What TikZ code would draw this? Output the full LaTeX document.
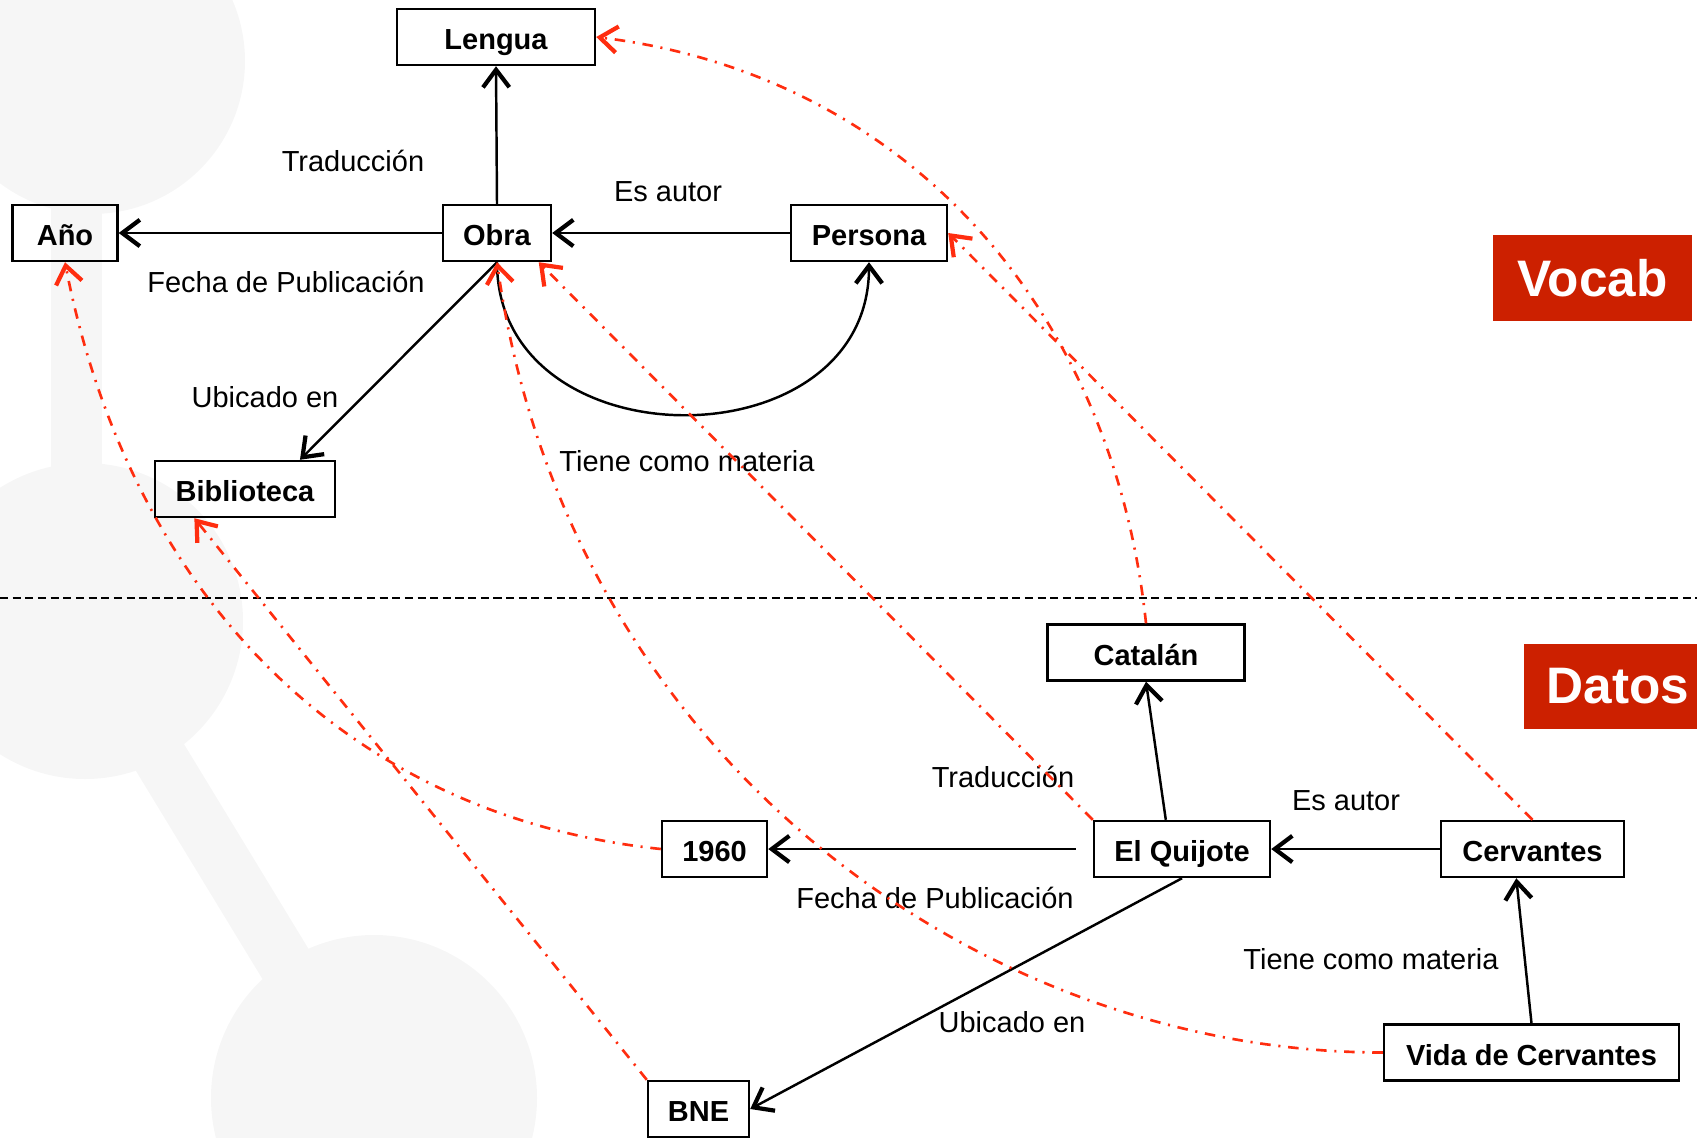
\documentclass[tikz,border=0pt]{standalone}
\usepackage{fontspec}
\setmainfont{Liberation Sans}
\usetikzlibrary{arrows.meta}
\definecolor{rdfred}{RGB}{255,45,15}
\definecolor{tagred}{RGB}{204,32,0}
\definecolor{bggray}{RGB}{246,246,246}

\begin{document}
\begin{tikzpicture}[
    >={Straight Barb[length=5pt,width=7.5pt,line width=1.2pt]},
    box/.style={draw, line width=0.7pt, minimum height=0.56cm, inner sep=0pt, text height=0.716em, text depth=0pt, font=\fontsize{8.25}{10}\selectfont\bfseries},
    lbl/.style={inner sep=0pt, text height=0.716em, text depth=0pt, font=\fontsize{8.25}{10}\selectfont},
    tag/.style={fill=tagred, text=white, minimum height=0.86cm, font=\fontsize{14.6}{17}\selectfont\bfseries},
    rel/.style={->, line width=0.7pt},
    link/.style={->, rdfred, line width=0.75pt, dash pattern=on 3pt off 2.2pt on 0.6pt off 2.2pt}
]
    \useasboundingbox (0,0) rectangle (16.97,-11.37);

    % background logo
    \begin{scope}
        \clip (0,0) rectangle (16.97,-11.37);
        \fill[bggray] (0.92,-0.61) circle (1.53);
        \fill[bggray] (0.51,-0.61) rectangle (1.02,-6.21);
        \fill[bggray] (0.85,-6.21) circle (1.58);
        \draw[bggray, line width=0.55cm] (0.77,-6.21) -- (3.67,-10.98);
        \fill[bggray] (3.74,-10.98) circle (1.63);
    \end{scope}

    % separator
    \coordinate (sepL) at (0,-5.98);
    \coordinate (sepR) at (16.97,-5.98);
    \draw[line width=0.6pt, dash pattern=on 2.3pt off 1.3pt] (sepL) -- (sepR);

    % vocabulary
    \node[box, minimum width=1.98cm] (lengua) at (4.96,-0.37) {Lengua};
    \node[box, minimum width=1.08cm] (obra) at (4.97,-2.33) {Obra};
    \node[box, minimum width=1.05cm] (anio) at (0.65,-2.33) {Año};
    \node[box, minimum width=1.56cm] (persona) at (8.69,-2.33) {Persona};
    \node[box, minimum width=1.80cm] (biblio) at (2.45,-4.89) {Biblioteca};

    \draw[rel] (obra.north) -- (lengua.south);
    \draw[rel] (obra.west) -- (anio.east);
    \draw[rel] (persona.west) -- (obra.east);
    \draw[rel] (obra.south) -- (biblio.28);
    \draw[rel] (obra.south) to[out=-90,in=-90,looseness=1.4] (persona.south);

    \node[lbl] (tradA) at (3.53,-1.59) {Traducción};
    \node[lbl] (autorA) at (6.68,-1.89) {Es autor};
    \node[lbl] (fechaA) at (2.86,-2.80) {Fecha de Publicación};
    \node[lbl] (ubicA) at (2.65,-3.95) {Ubicado en};
    \node[lbl] (materiaA) at (6.87,-4.59) {Tiene como materia};

    % data
    \node[box, minimum width=1.97cm] (catalan) at (11.46,-6.525) {Catalán};
    \node[box, minimum width=1.76cm] (quijote) at (11.82,-8.49) {El Quijote};
    \node[box, minimum width=1.83cm] (cervantes) at (15.325,-8.49) {Cervantes};
    \node[box, minimum width=1.05cm] (fecha) at (7.145,-8.49) {1960};
    \node[box, minimum width=1.01cm] (bne) at (6.985,-11.09) {BNE};
    \node[box, minimum width=2.95cm] (vida) at (15.315,-10.525) {Vida de Cervantes};

    \draw[rel] (quijote.119) -- (catalan.south);
    \draw[rel, shorten <=4.8pt] (quijote.west) -- (fecha.east);
    \draw[rel] (cervantes.west) -- (quijote.east);
    \draw[rel] (quijote.south) -- (bne.east);
    \draw[rel] (vida.north) -- (cervantes.-119);

    \node[lbl] (tradB) at (10.03,-7.75) {Traducción};
    \node[lbl] (autorB) at (13.46,-7.98) {Es autor};
    \node[lbl] (fechaB) at (9.35,-8.96) {Fecha de Publicación};
    \node[lbl] (materiaB) at (13.71,-9.57) {Tiene como materia};
    \node[lbl] (ubicB) at (10.12,-10.20) {Ubicado en};

    % instance links
    \draw[link] (catalan.north) to[out=96,in=-7] (lengua.east);
    \draw[link] (cervantes.north) -- (persona.east);
    \draw[link] (quijote.north west) -- (obra.-35);
    \draw[link] (vida.west) to[out=180,in=-82,out looseness=0.86,in looseness=1.08] (obra.south);
    \draw[link] (fecha.west) to[out=174,in=-79] (anio.south);
    \draw[link] (bne.north west) -- (biblio.-150);

    % tags
    \node[tag, minimum width=1.99cm] (vocab) at (15.925,-2.78) {Vocab};
    \node[tag, minimum width=1.88cm, minimum height=0.85cm] (datos) at (16.18,-6.865) {Datos};
\end{tikzpicture}
\end{document}
